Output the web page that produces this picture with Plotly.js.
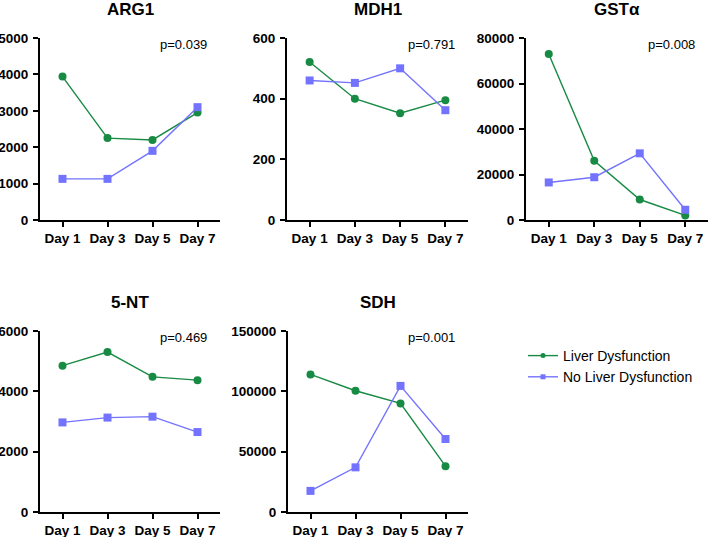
<!DOCTYPE html>
<html>
<head>
<meta charset="utf-8">
<script src="https://cdn.plot.ly/plotly-3.0.1.min.js"></script>
<style>html,body{margin:0;padding:0;background:#fff;}#chart{width:708px;height:537px;}</style>
</head>
<body>
<div id="chart"></div>
<script>
const days = ["Day 1", "Day 3", "Day 5", "Day 7"];
const panelTitles = ["ARG1", "MDH1", "GSTα", "5-NT", "SDH"];
const pValues = ["p=0.039", "p=0.791", "p=0.008", "p=0.469", "p=0.001"];
const seriesNames = ["Liver Dysfunction", "No Liver Dysfunction"];

const arg1Liver = [3940, 2250, 2200, 2950];
const arg1NoLiver = [1130, 1130, 1900, 3100];
const mdh1Liver = [521, 400, 352, 395];
const mdh1NoLiver = [460, 452, 500, 362];
const gstLiver = [73000, 26000, 9000, 2000];
const gstNoLiver = [16500, 18800, 29300, 4500];
const ntLiver = [4850, 5300, 4480, 4370];
const ntNoLiver = [2970, 3130, 3160, 2650];
const sdhLiver = [114000, 100500, 90000, 38000];
const sdhNoLiver = [17500, 37000, 104500, 60500];

const yMax = [5000, 600, 80000, 6000, 150000];
const yStep = [1000, 200, 20000, 2000, 50000];

const liverSets = [arg1Liver, mdh1Liver, gstLiver, ntLiver, sdhLiver];
const noLiverSets = [arg1NoLiver, mdh1NoLiver, gstNoLiver, ntNoLiver, sdhNoLiver];

const green = "#178a43";
const blue = "#7373ff";
const W = 708, H = 537;
// pixel boxes [x0, x1, yTop, yBottom]
const boxes = [
  [40, 220, 38, 220],
  [287, 468, 38, 220],
  [526, 708, 38, 220],
  [40, 220, 331, 512],
  [288, 468, 331, 512]
];
const titleY = [9, 9, 9, 302, 302];
const font = "Liberation Sans, Arial, sans-serif";

const traces = [];
const layout = {
  width: W, height: H,
  margin: {l: 0, r: 0, t: 0, b: 0},
  paper_bgcolor: "#fff", plot_bgcolor: "#fff",
  font: {family: font, color: "#000"},
  showlegend: true,
  legend: {
    x: 523 / W, y: 1 - 340 / H, xanchor: "left", yanchor: "top",
    font: {family: font, size: 14, color: "#000"},
    bgcolor: "rgba(0,0,0,0)", tracegroupgap: 0
  },
  annotations: []
};

for (let i = 0; i < 5; i++) {
  const s = i === 0 ? "" : String(i + 1);
  const b = boxes[i];
  traces.push({
    x: days, y: liverSets[i], type: "scatter", mode: "lines+markers",
    xaxis: "x" + s, yaxis: "y" + s, showlegend: false, cliponaxis: false,
    line: {color: green, width: 1.4},
    marker: {symbol: "circle", size: 8, color: green}
  });
  traces.push({
    x: days, y: noLiverSets[i], type: "scatter", mode: "lines+markers",
    xaxis: "x" + s, yaxis: "y" + s, showlegend: false, cliponaxis: false,
    line: {color: blue, width: 1.4},
    marker: {symbol: "square", size: 8, color: blue}
  });
  const axisCommon = {
    showgrid: false, zeroline: false, showline: true,
    linecolor: "#000", linewidth: 2, ticks: "outside",
    ticklen: 5, tickwidth: 2, tickcolor: "#000",
    tickfont: {family: font, size: 13.5, color: "#000", weight: 700},
    fixedrange: true
  };
  layout["xaxis" + s] = Object.assign({}, axisCommon, {
    domain: [b[0] / W, b[1] / W], anchor: "y" + s,
    type: "category", range: [-0.5, 3.5], categoryarray: days
  });
  layout["yaxis" + s] = Object.assign({}, axisCommon, {
    domain: [1 - b[3] / H, 1 - b[2] / H], anchor: "x" + s,
    range: [0, yMax[i]], dtick: yStep[i], tick0: 0, tickformat: "d",
    ticklabelstandoff: 2
  });
  layout.annotations.push({
    text: panelTitles[i], xref: "paper", yref: "paper",
    x: (b[0] + b[1]) / 2 / W, y: 1 - titleY[i] / H,
    xanchor: "center", yanchor: "middle", showarrow: false,
    font: {family: font, size: 17, color: "#000", weight: 700}
  });
  layout.annotations.push({
    text: pValues[i], xref: "paper", yref: "paper",
    x: (b[1] - 11) / W, y: 1 - (b[2] + 6) / H,
    xanchor: "right", yanchor: "middle", showarrow: false,
    font: {family: font, size: 13, color: "#000"}
  });
}

// legend entries
traces.push({
  x: [null], y: [null], type: "scatter", mode: "lines+markers", name: seriesNames[0],
  xaxis: "x5", yaxis: "y5", showlegend: true,
  line: {color: green, width: 1.4}, marker: {symbol: "circle", size: 5, color: green}
});
traces.push({
  x: [null], y: [null], type: "scatter", mode: "lines+markers", name: seriesNames[1],
  xaxis: "x5", yaxis: "y5", showlegend: true,
  line: {color: blue, width: 1.4}, marker: {symbol: "square", size: 5, color: blue}
});

Plotly.newPlot("chart", traces, layout, {staticPlot: true, displayModeBar: false});
</script>
</body>
</html>
